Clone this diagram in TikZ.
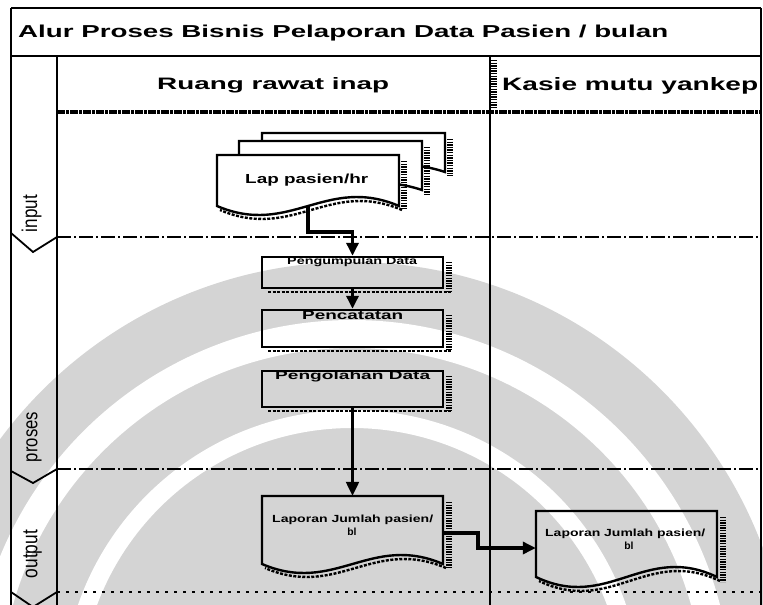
\documentclass[tikz,border=0pt]{standalone}
\usepackage{fontspec}
\setmainfont{Liberation Sans}
\usetikzlibrary{arrows.meta}
\tikzset{
  frameline/.style={line width=1.8pt},
  boxline/.style={draw=black, line width=2.4pt},
  flowarr/.style={line width=3.3pt, -{Triangle[length=13pt,width=12pt]}},
  thinarr/.style={line width=2.3pt, -{Triangle[length=14pt,width=13pt]}},
  dashdotline/.style={line width=1.5pt, dash pattern=on 14pt off 3pt on 2pt off 3pt},
  dotline/.style={line width=1.7pt, dash pattern=on 3pt off 6pt},
  heavyline/.style={line width=4pt, dash pattern=on 8pt off 1pt on 3pt off 1pt},
  hatch/.style={line width=5.5pt, dash pattern=on 1.4pt off 1.2pt},
  hatchb/.style={line width=2.4pt, dash pattern=on 3pt off 1.5pt},
  wm/.style={fill=black!17},
  lbl/.style={inner sep=0pt, anchor=base west},
  lanelbl/.style={inner sep=0pt, anchor=base, rotate=90},
  rectbox/.style={boxline, inner sep=0pt, minimum width=181pt},
  ghost/.style={inner sep=0pt, minimum width=181pt, minimum height=74pt},
  docp/.style n args={5}{insert path={(#1,#2) -- (#3,#2) -- (#3,#4) .. controls ({#3-0.4*(#3-#1)},{#4-3.46*#5}) and ({#1+0.4*(#3-#1)},{#4+3.46*#5}) .. (#1,#4) -- cycle}},
  docw/.style n args={5}{insert path={(#3,#4) .. controls ({#3-0.4*(#3-#1)},{#4-3.46*#5}) and ({#1+0.4*(#3-#1)},{#4+3.46*#5}) .. (#1,#4)}},
}
\begin{document}
\begin{tikzpicture}[x=1pt,y=-1pt]
\useasboundingbox (0,0) rectangle (763,605);
\fill[white] (0,0) rectangle (763,605);
% watermark
\begin{scope}
\clip (0,0) rectangle (763,605);
\fill[wm] (352,700) circle[radius=438];
\draw[white, line width=28pt] (352,700) circle[radius=366];
\draw[white, line width=18pt] (352,700) circle[radius=281];
\end{scope}
% frame
\draw[frameline] (11,8) -- (761,8);
\draw[frameline] (11,8) -- (11,605);
\draw[frameline] (761,8) -- (761,605);
\draw[frameline] (11,56) -- (761,56);
\draw[frameline] (57,56) -- (57,605);
\draw[frameline] (490,56) -- (490,605);
\draw[hatch] (494,60) -- (494,108);
\draw[heavyline] (57,112) -- (761,112);
\draw[dashdotline] (57,237) -- (761,237);
\draw[dashdotline] (57,469) -- (761,469);
\draw[dotline] (57,592) -- (761,592);
\draw[frameline] (11,233) -- (33,252) -- (57,237);
\draw[frameline] (11,471) -- (33,483) -- (57,469);
\draw[frameline] (11,592) -- (33,607) -- (57,592);
% texts
\node[lbl] (title) at (18,37) {\resizebox{650pt}{12.5pt}{\bfseries Alur Proses Bisnis Pelaporan Data Pasien / bulan}};
\node[lbl] (h1) at (157,89) {\resizebox{232pt}{12pt}{\bfseries Ruang rawat inap}};
\node[lbl] (h2) at (502,90) {\resizebox{256pt}{13pt}{\bfseries Kasie mutu yankep}};
\node[lanelbl] (l1) at (37,213.5) {\resizebox{37pt}{15.5pt}{input}};
\node[lanelbl] (l2) at (37.5,437) {\resizebox{50pt}{11pt}{proses}};
\node[lanelbl] (l3) at (37.5,554) {\resizebox{48pt}{14pt}{output}};
% document stack
\draw[hatch] (450,139) -- (450,176);
\filldraw[boxline, fill=white, docp={262}{133}{445}{172}{7}];
\draw[hatch] (427,147) -- (427,194);
\filldraw[boxline, fill=white, docp={239}{141}{422}{190}{7}];
\draw[hatch] (404,161) -- (404,210);
\draw[hatchb, shift={(3,4)}, docw={217}{155}{399}{206}{9}];
\filldraw[boxline, fill=white, docp={217}{155}{399}{206}{9}];
\node[inner sep=0pt, minimum width=182pt, minimum height=51pt] (lap) at (308,180.5) {};
\node[lbl] (t1) at (245,183) {\resizebox{123pt}{9.5pt}{\bfseries Lap pasien/hr}};
% process boxes
\draw[hatch] (449,262) -- (449,292);
\draw[hatchb] (268,292) -- (451,292);
\node[rectbox, minimum height=31pt] (pd) at (352.5,272.5) {};
\node[lbl] (t2) at (287,264.5) {\resizebox{130pt}{7.5pt}{\bfseries Pengumpulan Data}};
\draw[hatch] (449,315) -- (449,351);
\draw[hatchb] (268,351) -- (451,351);
\node[rectbox, minimum height=37pt] (pc) at (352.5,328.5) {};
\node[lbl] (t3) at (302,319) {\resizebox{101pt}{8.5pt}{\bfseries Pencatatan}};
\draw[hatch] (449,376) -- (449,411);
\draw[hatchb] (268,411) -- (451,411);
\node[rectbox, minimum height=36pt] (po) at (352.5,389) {};
\node[lbl] (t4) at (275,379) {\resizebox{155pt}{8.5pt}{\bfseries Pengolahan Data}};
% report documents
\draw[hatch] (449,502) -- (449,568);
\draw[hatchb, shift={(3,4)}, docw={262}{496}{443}{564}{9}];
\draw[boxline, docp={262}{496}{443}{564}{9}];
\node[ghost] (lapL) at (352.5,533) {};
\node[lbl] (t5) at (272,522) {\resizebox{161pt}{7.5pt}{\bfseries Laporan Jumlah pasien/}};
\node[inner sep=0pt, anchor=base] (t6) at (352,535) {\resizebox{!}{7.5pt}{\bfseries bl}};
\draw[hatch] (723,517) -- (723,582);
\draw[hatchb, shift={(3,4)}, docw={536}{511}{717}{577}{10}];
\draw[boxline, docp={536}{511}{717}{577}{10}];
\node[ghost] (lapR) at (626.5,548) {};
\node[lbl] (t7) at (545,536) {\resizebox{160pt}{7.5pt}{\bfseries Laporan Jumlah pasien/}};
\node[inner sep=0pt, anchor=base] (t8) at (629,549) {\resizebox{!}{7.5pt}{\bfseries bl}};
% connectors
\coordinate (k1) at (308,232);
\coordinate (k4) at (478,533);
\draw[flowarr] (lap.south) -- (k1) -| (pd.north);
\draw[flowarr] (pd.south) -- (pc.north);
\draw[thinarr] (po.south) -- (lapL.north);
\draw[flowarr] (lapL.east) -- (k4) |- (lapR.west);
\end{tikzpicture}
\end{document}
